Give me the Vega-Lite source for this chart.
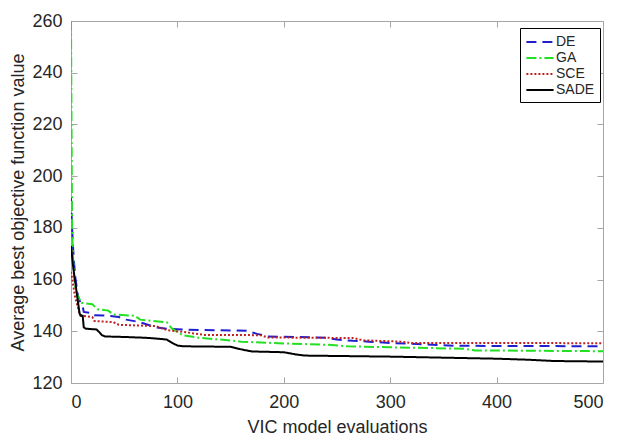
{
  "$schema": "https://vega.github.io/schema/vega-lite/v6.json",
  "width": 532,
  "height": 362,
  "autosize": "none",
  "padding": {"left": 71, "top": 21, "right": 14, "bottom": 53},
  "background": "white",
  "config": {
    "view": {"stroke": "#a6a6a6", "strokeWidth": 1},
    "font": "Liberation Sans",
    "axis": {
      "grid": false,
      "domain": false,
      "tickColor": "#a6a6a6",
      "tickSize": -6,
      "labelFont": "Liberation Sans",
      "labelFontSize": 18,
      "labelColor": "#262626",
      "titleFont": "Liberation Sans",
      "titleFontSize": 18,
      "titleFontWeight": "normal",
      "titleColor": "#262626"
    },
    "legend": {
      "labelFont": "Liberation Sans",
      "labelFontSize": 14,
      "labelColor": "#262626"
    }
  },
  "datasets": {
    "curves": [
      {"series": "DE", "evals": 0, "value": 192},
      {"series": "DE", "evals": 1, "value": 180},
      {"series": "DE", "evals": 2, "value": 172},
      {"series": "DE", "evals": 3, "value": 166},
      {"series": "DE", "evals": 4, "value": 161},
      {"series": "DE", "evals": 5, "value": 158},
      {"series": "DE", "evals": 6, "value": 155},
      {"series": "DE", "evals": 7, "value": 153},
      {"series": "DE", "evals": 8, "value": 152},
      {"series": "DE", "evals": 9, "value": 151},
      {"series": "DE", "evals": 11, "value": 149.5},
      {"series": "DE", "evals": 12, "value": 147.5},
      {"series": "DE", "evals": 20, "value": 147},
      {"series": "DE", "evals": 22, "value": 146.2},
      {"series": "DE", "evals": 35, "value": 146},
      {"series": "DE", "evals": 45, "value": 145.5},
      {"series": "DE", "evals": 52, "value": 144.5},
      {"series": "DE", "evals": 65, "value": 143.5},
      {"series": "DE", "evals": 70, "value": 142.8},
      {"series": "DE", "evals": 80, "value": 141.5},
      {"series": "DE", "evals": 90, "value": 141},
      {"series": "DE", "evals": 100, "value": 140.8},
      {"series": "DE", "evals": 120, "value": 140.5},
      {"series": "DE", "evals": 165, "value": 140.2},
      {"series": "DE", "evals": 175, "value": 139},
      {"series": "DE", "evals": 185, "value": 138},
      {"series": "DE", "evals": 210, "value": 137.8},
      {"series": "DE", "evals": 240, "value": 137.5},
      {"series": "DE", "evals": 250, "value": 136.8},
      {"series": "DE", "evals": 265, "value": 136.3},
      {"series": "DE", "evals": 280, "value": 136},
      {"series": "DE", "evals": 300, "value": 135.5},
      {"series": "DE", "evals": 340, "value": 134.8},
      {"series": "DE", "evals": 360, "value": 134.4},
      {"series": "DE", "evals": 500, "value": 134.2},

      {"series": "GA", "evals": 0, "value": 260},
      {"series": "GA", "evals": 1, "value": 180},
      {"series": "GA", "evals": 2, "value": 168},
      {"series": "GA", "evals": 3, "value": 161},
      {"series": "GA", "evals": 4, "value": 157},
      {"series": "GA", "evals": 6, "value": 154},
      {"series": "GA", "evals": 8, "value": 152.5},
      {"series": "GA", "evals": 10, "value": 151},
      {"series": "GA", "evals": 20, "value": 150.5},
      {"series": "GA", "evals": 25, "value": 148.5},
      {"series": "GA", "evals": 35, "value": 148},
      {"series": "GA", "evals": 40, "value": 146.5},
      {"series": "GA", "evals": 60, "value": 146},
      {"series": "GA", "evals": 65, "value": 144.5},
      {"series": "GA", "evals": 90, "value": 143.5},
      {"series": "GA", "evals": 95, "value": 141},
      {"series": "GA", "evals": 105, "value": 138.5},
      {"series": "GA", "evals": 120, "value": 137.5},
      {"series": "GA", "evals": 140, "value": 136.8},
      {"series": "GA", "evals": 160, "value": 136},
      {"series": "GA", "evals": 200, "value": 135.3},
      {"series": "GA", "evals": 240, "value": 134.8},
      {"series": "GA", "evals": 260, "value": 134.2},
      {"series": "GA", "evals": 300, "value": 133.8},
      {"series": "GA", "evals": 340, "value": 133.5},
      {"series": "GA", "evals": 370, "value": 133.2},
      {"series": "GA", "evals": 380, "value": 132.6},
      {"series": "GA", "evals": 500, "value": 132.3},

      {"series": "SCE", "evals": 0, "value": 163},
      {"series": "SCE", "evals": 2, "value": 158},
      {"series": "SCE", "evals": 4, "value": 153},
      {"series": "SCE", "evals": 6, "value": 150},
      {"series": "SCE", "evals": 8, "value": 147},
      {"series": "SCE", "evals": 10, "value": 146},
      {"series": "SCE", "evals": 20, "value": 145.5},
      {"series": "SCE", "evals": 22, "value": 144},
      {"series": "SCE", "evals": 40, "value": 143.5},
      {"series": "SCE", "evals": 45, "value": 142.5},
      {"series": "SCE", "evals": 80, "value": 142},
      {"series": "SCE", "evals": 90, "value": 140.5},
      {"series": "SCE", "evals": 110, "value": 139.5},
      {"series": "SCE", "evals": 125, "value": 138.6},
      {"series": "SCE", "evals": 178, "value": 138.5},
      {"series": "SCE", "evals": 185, "value": 137.6},
      {"series": "SCE", "evals": 265, "value": 137.4},
      {"series": "SCE", "evals": 275, "value": 136.5},
      {"series": "SCE", "evals": 310, "value": 136},
      {"series": "SCE", "evals": 320, "value": 135.5},
      {"series": "SCE", "evals": 500, "value": 135.4},

      {"series": "SADE", "evals": 0, "value": 173},
      {"series": "SADE", "evals": 1, "value": 169},
      {"series": "SADE", "evals": 2, "value": 165},
      {"series": "SADE", "evals": 3, "value": 162},
      {"series": "SADE", "evals": 4, "value": 159},
      {"series": "SADE", "evals": 5, "value": 156},
      {"series": "SADE", "evals": 6, "value": 153},
      {"series": "SADE", "evals": 7, "value": 150},
      {"series": "SADE", "evals": 8, "value": 147},
      {"series": "SADE", "evals": 9, "value": 146},
      {"series": "SADE", "evals": 11, "value": 146},
      {"series": "SADE", "evals": 12, "value": 141.5},
      {"series": "SADE", "evals": 14, "value": 141},
      {"series": "SADE", "evals": 24, "value": 140.7},
      {"series": "SADE", "evals": 27, "value": 139.5},
      {"series": "SADE", "evals": 29, "value": 138.5},
      {"series": "SADE", "evals": 32, "value": 138},
      {"series": "SADE", "evals": 50, "value": 137.8},
      {"series": "SADE", "evals": 70, "value": 137.5},
      {"series": "SADE", "evals": 80, "value": 137.2},
      {"series": "SADE", "evals": 90, "value": 136.8},
      {"series": "SADE", "evals": 95, "value": 135.5},
      {"series": "SADE", "evals": 100, "value": 134.5},
      {"series": "SADE", "evals": 105, "value": 134.2},
      {"series": "SADE", "evals": 150, "value": 134},
      {"series": "SADE", "evals": 160, "value": 133},
      {"series": "SADE", "evals": 170, "value": 132.2},
      {"series": "SADE", "evals": 200, "value": 131.9},
      {"series": "SADE", "evals": 212, "value": 131},
      {"series": "SADE", "evals": 220, "value": 130.6},
      {"series": "SADE", "evals": 260, "value": 130.4},
      {"series": "SADE", "evals": 300, "value": 130.2},
      {"series": "SADE", "evals": 350, "value": 129.8},
      {"series": "SADE", "evals": 400, "value": 129.4},
      {"series": "SADE", "evals": 430, "value": 129},
      {"series": "SADE", "evals": 454, "value": 128.5},
      {"series": "SADE", "evals": 500, "value": 128.3}
    ]
  },
  "data": {"name": "curves"},
  "layer": [
    {
      "mark": {"type": "line", "strokeWidth": 2, "clip": true},
      "encoding": {
        "x": {
          "field": "evals", "type": "quantitative",
          "scale": {"domain": [0, 500], "nice": false},
          "axis": {"values": [0, 100, 200, 300, 400, 500], "title": "VIC model evaluations", "labelPadding": 16, "titlePadding": 7}
        },
        "y": {
          "field": "value", "type": "quantitative",
          "scale": {"domain": [120, 260], "nice": false, "zero": false},
          "axis": {"values": [120, 140, 160, 180, 200, 220, 240, 260], "title": "Average best objective function value", "labelPadding": 15, "titlePadding": 4}
        },
        "color": {
          "field": "series", "type": "nominal",
          "scale": {"domain": ["DE", "GA", "SCE", "SADE"], "range": ["#1f1fd0", "#22e022", "#c02020", "#000000"]},
          "legend": {
            "title": null,
            "orient": "none",
            "legendX": 449,
            "legendY": 7,
            "strokeColor": "#000000",
            "fillColor": "#ffffff",
            "padding": 5,
            "symbolType": "M-1.7,0H1.7",
            "symbolSize": 256,
            "symbolOffset": 6,
            "symbolStrokeWidth": 2,
            "rowPadding": 0,
            "labelOffset": 7
          }
        },
        "strokeDash": {
          "field": "series", "type": "nominal",
          "scale": {"domain": ["DE", "GA", "SCE", "SADE"], "range": [[10, 6], [10, 3, 2, 3], [2, 2], [1, 0]]},
          "legend": {
            "title": null,
            "orient": "none",
            "legendX": 449,
            "legendY": 7,
            "strokeColor": "#000000",
            "fillColor": "#ffffff",
            "padding": 5,
            "symbolType": "M-1.7,0H1.7",
            "symbolSize": 256,
            "symbolOffset": 6,
            "symbolStrokeWidth": 2,
            "rowPadding": 0,
            "labelOffset": 7
          }
        },
        "order": {"field": "evals", "type": "quantitative"}
      }
    },
    {
      "mark": {"type": "line", "opacity": 0},
      "encoding": {
        "x": {
          "field": "evals", "type": "quantitative",
          "axis": {"orient": "top", "values": [0, 100, 200, 300, 400, 500], "labels": false, "title": null}
        },
        "y": {
          "field": "value", "type": "quantitative",
          "axis": {"orient": "right", "values": [120, 140, 160, 180, 200, 220, 240, 260], "labels": false, "title": null}
        },
        "detail": {"field": "series"}
      }
    }
  ],
  "resolve": {"axis": {"x": "independent", "y": "independent"}}
}
